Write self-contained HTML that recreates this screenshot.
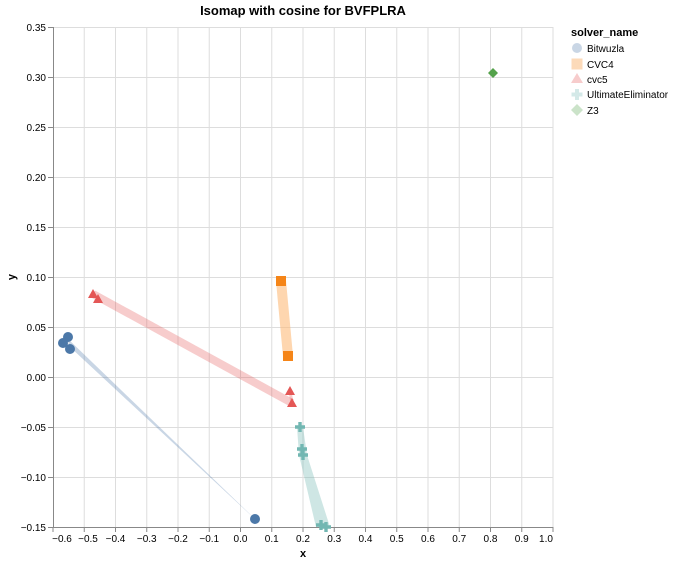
<!DOCTYPE html><html><head><style>body{margin:0;background:#fff}svg{font-family:"Liberation Sans",Arial,sans-serif}</style></head><body>
<svg width="674" height="564" xmlns="http://www.w3.org/2000/svg">
<rect width="674" height="564" fill="#fff"/>
<g stroke="#ddd" stroke-width="1">
<line x1="84.25" y1="27" x2="84.25" y2="527"/><line x1="115.5" y1="27" x2="115.5" y2="527"/><line x1="146.75" y1="27" x2="146.75" y2="527"/><line x1="178" y1="27" x2="178" y2="527"/><line x1="209.25" y1="27" x2="209.25" y2="527"/><line x1="240.5" y1="27" x2="240.5" y2="527"/><line x1="271.75" y1="27" x2="271.75" y2="527"/><line x1="303" y1="27" x2="303" y2="527"/><line x1="334.25" y1="27" x2="334.25" y2="527"/><line x1="365.5" y1="27" x2="365.5" y2="527"/><line x1="396.75" y1="27" x2="396.75" y2="527"/><line x1="428" y1="27" x2="428" y2="527"/><line x1="459.25" y1="27" x2="459.25" y2="527"/><line x1="490.5" y1="27" x2="490.5" y2="527"/><line x1="521.75" y1="27" x2="521.75" y2="527"/><line x1="553" y1="27" x2="553" y2="527"/>
<line x1="53" y1="27.5" x2="553" y2="27.5"/><line x1="53" y1="77.5" x2="553" y2="77.5"/><line x1="53" y1="127.5" x2="553" y2="127.5"/><line x1="53" y1="177.5" x2="553" y2="177.5"/><line x1="53" y1="227.5" x2="553" y2="227.5"/><line x1="53" y1="277.5" x2="553" y2="277.5"/><line x1="53" y1="327.5" x2="553" y2="327.5"/><line x1="53" y1="377.5" x2="553" y2="377.5"/><line x1="53" y1="427.5" x2="553" y2="427.5"/><line x1="53" y1="477.5" x2="553" y2="477.5"/>
</g>
<g stroke="#888" stroke-width="1">
<line x1="53" y1="527.5" x2="553" y2="527.5"/><line x1="53.5" y1="27" x2="53.5" y2="527"/>
</g>
<g stroke="#888">
<path d="M53,527v5M84.25,527v5M115.5,527v5M146.75,527v5M178,527v5M209.25,527v5M240.5,527v5M271.75,527v5M303,527v5M334.25,527v5M365.5,527v5M396.75,527v5M428,527v5M459.25,527v5M490.5,527v5M521.75,527v5M553,527v5"/>
<path d="M48,27.5h5M48,77.5h5M48,127.5h5M48,177.5h5M48,227.5h5M48,277.5h5M48,327.5h5M48,377.5h5M48,427.5h5M48,477.5h5M48,527.5h5"/>
</g>
<g font-size="10" fill="#000" text-anchor="middle">
<text x="62" y="542">−0.6</text><text x="88" y="542">−0.5</text><text x="115.5" y="542">−0.4</text><text x="146.75" y="542">−0.3</text><text x="178" y="542">−0.2</text><text x="209.25" y="542">−0.1</text><text x="240.5" y="542">0.0</text><text x="271.75" y="542">0.1</text><text x="303" y="542">0.2</text><text x="334.25" y="542">0.3</text><text x="365.5" y="542">0.4</text><text x="396.75" y="542">0.5</text><text x="428" y="542">0.6</text><text x="459.25" y="542">0.7</text><text x="490.5" y="542">0.8</text><text x="521.75" y="542">0.9</text><text x="546" y="542">1.0</text>
</g>
<g font-size="10" fill="#000" text-anchor="end">
<text x="46" y="31">0.35</text><text x="46" y="81">0.30</text><text x="46" y="131">0.25</text><text x="46" y="181">0.20</text><text x="46" y="231">0.15</text><text x="46" y="281">0.10</text><text x="46" y="331">0.05</text><text x="46" y="381">0.00</text><text x="46" y="431">−0.05</text><text x="46" y="481">−0.10</text><text x="46" y="531">−0.15</text>
</g>
<text x="303" y="557" font-size="11" font-weight="bold" text-anchor="middle">x</text>
<text x="15" y="277" font-size="11" font-weight="bold" text-anchor="middle" transform="rotate(-90 15 277)">y</text>
<text x="303" y="15" font-size="13" font-weight="bold" text-anchor="middle">Isomap with cosine for BVFPLRA</text>
<!-- trails -->
<polygon points="66,337 70,347 256,520 254,518" fill="#4c78a8" opacity="0.3"/>
<line x1="63" y1="343" x2="70" y2="349" stroke="#4c78a8" stroke-opacity="0.3" stroke-width="3"/>
<line x1="281" y1="281" x2="288" y2="356" stroke="#fdba7a" stroke-opacity="0.6" stroke-width="10"/>
<line x1="93" y1="294" x2="292" y2="403" stroke="#e45756" stroke-opacity="0.3" stroke-width="8"/>
<line x1="290" y1="391" x2="292" y2="403" stroke="#e45756" stroke-opacity="0.3" stroke-width="3"/>
<polygon points="297,427 303,427 307,455 330,527 316,527 299,455" fill="#72b7b2" opacity="0.35"/>
<!-- points -->
<g fill="#4c78a8"><circle cx="68" cy="337" r="5"/><circle cx="63" cy="343" r="5"/><circle cx="70" cy="349" r="5"/><circle cx="255" cy="519" r="5"/></g>
<g fill="#f58518"><rect x="276" y="276" width="10" height="10"/><rect x="283" y="351" width="10" height="10"/></g>
<g fill="#e45756"><path d="M93,289l5,9h-10z M98,294l5,9h-10z M290,386l5,9h-10z M292,398l5,9h-10z"/></g>
<g fill="#72b7b2"><path id="c" d="M-1.7,-5h3.4v3.3h3.3v3.4h-3.3v3.3h-3.4v-3.3h-3.3v-3.4h3.3z" transform="translate(300 427)"/>
<use href="#c" transform="translate(2 22)"/><use href="#c" transform="translate(3 28)"/><use href="#c" transform="translate(21 98)"/><use href="#c" transform="translate(26 100)"/></g>
<path d="M493,68l5,5l-5,5l-5,-5z" fill="#54a24b"/>
<!-- legend -->
<text x="571" y="36" font-size="11" font-weight="bold">solver_name</text>
<g font-size="10" fill="#000">
<circle cx="577" cy="48" r="5" fill="#4c78a8" opacity="0.3"/><text x="587" y="52">Bitwuzla</text>
<rect x="571.5" y="58.5" width="11" height="11" fill="#f58518" opacity="0.3"/><text x="587" y="68">CVC4</text>
<path d="M577,73l6,10h-12z" fill="#e45756" opacity="0.3"/><text x="587" y="83">cvc5</text>
<path d="M575,89h4v3.5h3.5v4h-3.5v3.5h-4v-3.5h-3.5v-4h3.5z" fill="#72b7b2" opacity="0.3"/><text x="587" y="98">UltimateEliminator</text>
<path d="M577,104l6,6l-6,6l-6,-6z" fill="#54a24b" opacity="0.3"/><text x="587" y="114">Z3</text>
</g>
</svg></body></html>
